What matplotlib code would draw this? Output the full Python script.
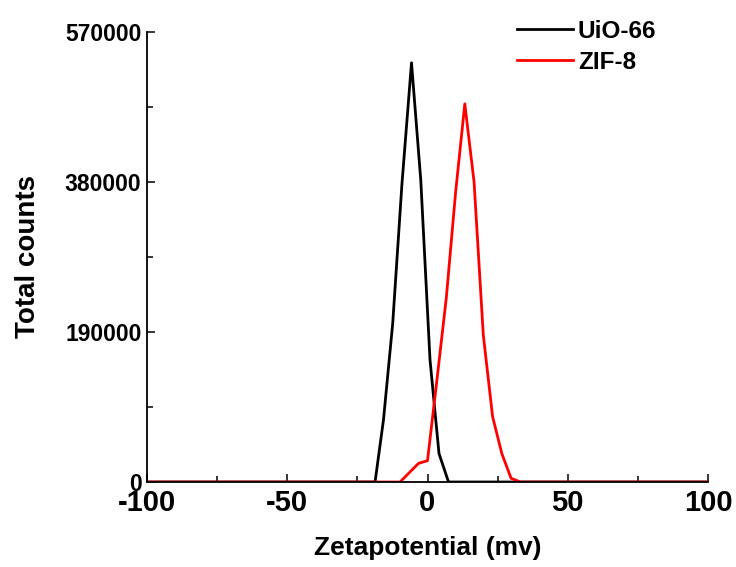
import matplotlib
matplotlib.use("Agg")
import matplotlib.pyplot as plt
from matplotlib.ticker import MultipleLocator, FixedLocator

# Data
uio_x = [-100, -18.7, -15.7, -12.4, -9.1, -5.7, -2.4, 0.9, 4.1, 7.5, 100]
uio_y = [0, 0, 78500, 201000, 378000, 531000, 382500, 154500, 36000, 0, 0]

zif_x = [-100, -9.8, -3.2, 0.0, 3.4, 6.7, 10.0, 13.3, 16.6, 19.9, 23.2, 26.5, 29.8, 33.1, 100]
zif_y = [0, 0, 23600, 27000, 130500, 233000, 366000, 479000, 380000, 186000, 83000, 36000, 4700, 0, 0]

x_ticks = [-100, -50, 0, 50, 100]
y_ticks = [0, 190000, 380000, 570000]
labels = ["UiO-66", "ZIF-8"]

plt.rcParams['font.family'] = ['Liberation Sans', 'DejaVu Sans']
plt.rcParams['font.weight'] = 'bold'

fig = plt.figure(figsize=(7.36, 5.67), dpi=100)
ax = fig.add_axes([147/736, 1-482/567, (708-147)/736, (482-32)/567])

ax.plot(uio_x, uio_y, color='black', lw=2.0, label=labels[0])
ax.plot(zif_x, zif_y, color='#ff0000', lw=2.0, label=labels[1])

ax.set_xlim(-100, 100)
ax.set_ylim(0, 570000)
ax.xaxis.set_major_locator(FixedLocator(x_ticks))
ax.xaxis.set_minor_locator(MultipleLocator(25))
ax.yaxis.set_major_locator(FixedLocator(y_ticks))
ax.yaxis.set_minor_locator(MultipleLocator(95000))
ax.set_yticklabels([str(v) for v in y_ticks], fontsize=16.5, fontweight='bold')
ax.set_xticklabels([str(v) for v in x_ticks], fontsize=21, fontweight='bold')

for s in ['top', 'right']:
    ax.spines[s].set_visible(False)
for s in ['left', 'bottom']:
    ax.spines[s].set_linewidth(1.3)

ax.tick_params(axis='both', which='major', direction='in', length=6, width=1.1, pad=4)
ax.tick_params(axis='both', which='minor', direction='in', length=4, width=1.1)
ax.tick_params(axis='x', which='major', pad=5)

ax.set_xlabel('Zetapotential (mv)', fontsize=19, fontweight='bold', labelpad=14)
ax.set_ylabel('Total counts', fontsize=20, fontweight='bold', labelpad=17)

leg = fig.legend(loc='upper left', bbox_to_anchor=(517/736, 1-20/567), frameon=False,
                 prop={'size': 17.5, 'weight': 'bold'}, handlelength=2.3,
                 handletextpad=0.2, labelspacing=0.32, borderpad=0, borderaxespad=0)
for h in leg.get_lines():
    h.set_linewidth(2.0)

fig.savefig('out.png', dpi=100)
